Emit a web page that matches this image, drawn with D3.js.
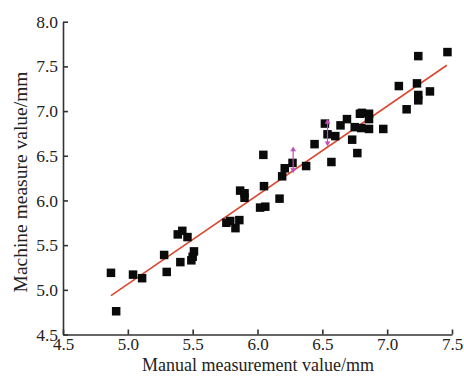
<!DOCTYPE html>
<html>
<head>
<meta charset="utf-8">
<script src="https://cdn.jsdelivr.net/npm/d3@7"></script>
<style>
  body { margin: 0; background: #fff; }
  text { font-family: "Liberation Serif", "DejaVu Serif", serif; fill: #222; }
</style>
</head>
<body>
<div id="chart"></div>
<script>
var manual = [4.87, 4.91, 5.04, 5.11, 5.28, 5.30, 5.385, 5.42, 5.46, 5.405, 5.51, 5.50, 5.49,
              5.76, 5.79, 5.83, 5.86, 5.866, 5.90, 5.90, 6.05, 6.02, 6.06, 6.045, 6.17, 6.19,
              6.21, 6.27, 6.375, 6.44, 6.57, 6.52, 6.54, 6.60, 6.64, 6.69, 6.73, 6.77, 6.79,
              6.75, 6.80, 6.805, 6.86, 6.86, 6.86, 6.97, 7.09, 7.15, 7.23, 7.24, 7.24, 7.24,
              7.33, 7.465];
var machine = [5.19, 4.76, 5.17, 5.13, 5.39, 5.20, 5.62, 5.66, 5.59, 5.31, 5.43, 5.37, 5.33,
               5.75, 5.77, 5.69, 5.78, 6.11, 6.08, 6.03, 6.16, 5.92, 5.93, 6.51, 6.02, 6.27,
               6.36, 6.42, 6.385, 6.63, 6.43, 6.86, 6.74, 6.72, 6.84, 6.91, 6.68, 6.53, 6.97,
               6.82, 6.81, 6.98, 6.97, 6.91, 6.80, 6.80, 7.28, 7.02, 7.31, 7.615, 7.18, 7.12,
               7.22, 7.66];

// linear fit
var fitSlope = 0.995, fitIntercept = 0.09;
var fitRange = [4.87, 7.46];

// two error bars (magenta arrows)
var errX = [6.275, 6.54];
var errLo = [6.32, 6.62];
var errHi = [6.59, 6.90];

var ticks = [4.5, 5.0, 5.5, 6.0, 6.5, 7.0, 7.5, 8.0];
var xTicks = [4.5, 5.0, 5.5, 6.0, 6.5, 7.0, 7.5];

var W = 464, H = 378;
var margin = {top: 21.7, right: 12, bottom: 43.5, left: 63};
var width = W - margin.left - margin.right,
    height = H - margin.top - margin.bottom;

var svg = d3.select("#chart").append("svg")
    .attr("width", W)
    .attr("height", H)
  .append("g")
    .attr("transform", "translate(" + margin.left + "," + margin.top + ")");

var x = d3.scaleLinear().domain([4.5, 7.5]).range([0, width]);
var y = d3.scaleLinear().domain([4.5, 8.0]).range([height, 0]);

// axes, ticks pointing inward
var xAxis = d3.axisBottom(x).tickValues(xTicks).tickFormat(d3.format(".1f"))
    .tickSizeInner(-5).tickSizeOuter(0).tickPadding(3);
var yAxis = d3.axisLeft(y).tickValues(ticks).tickFormat(d3.format(".1f"))
    .tickSizeInner(-5).tickSizeOuter(0).tickPadding(5);

var gx = svg.append("g")
    .attr("transform", "translate(0," + height + ")")
    .call(xAxis);
var gy = svg.append("g").call(yAxis);

[gx, gy].forEach(function(g) {
  g.selectAll("path, line").attr("stroke", "#333").attr("stroke-width", 1.6);
  g.selectAll("text").style("font-size", "17.5px").attr("fill", "#222");
});
gx.selectAll("text").style("font-size", "17px").attr("dy", "0.75em");

// fit line
svg.append("line")
    .attr("x1", x(fitRange[0]))
    .attr("y1", y(fitSlope * fitRange[0] + fitIntercept))
    .attr("x2", x(fitRange[1]))
    .attr("y2", y(fitSlope * fitRange[1] + fitIntercept))
    .attr("stroke", "#d9482e")
    .attr("stroke-width", 1.6);

// points
var sz = 8.5;
svg.selectAll(".pt")
    .data(manual.map(function(d, i) { return [d, machine[i]]; }))
    .enter().append("rect")
      .attr("class", "pt")
      .attr("x", function(d) { return x(d[0]) - sz / 2; })
      .attr("y", function(d) { return y(d[1]) - sz / 2; })
      .attr("width", sz)
      .attr("height", sz)
      .attr("fill", "#0a0a0a");

// error arrows
var errColor = "#c04fb8";
errX.forEach(function(ex, i) {
  svg.append("line")
      .attr("x1", x(ex)).attr("x2", x(ex))
      .attr("y1", y(errLo[i])).attr("y2", y(errHi[i]))
      .attr("stroke", errColor).attr("stroke-width", 1.2);
  svg.append("path")
      .attr("d", d3.symbol().type(d3.symbolTriangle).size(14)())
      .attr("transform", "translate(" + x(ex) + "," + (y(errHi[i]) + 2) + ")")
      .attr("fill", errColor);
  svg.append("path")
      .attr("d", d3.symbol().type(d3.symbolTriangle).size(14)())
      .attr("transform", "translate(" + x(ex) + "," + (y(errLo[i]) - 2) + ") rotate(180)")
      .attr("fill", errColor);
});

// axis titles
svg.append("text")
    .attr("x", 258 - margin.left)
    .attr("y", height + 36.5)
    .style("text-anchor", "middle")
    .style("font-size", "18px")
    .text("Manual measurement value/mm");

svg.append("text")
    .attr("transform", "rotate(-90)")
    .attr("x", -(182 - margin.top))
    .attr("y", -margin.left + 27)
    .style("text-anchor", "middle")
    .style("font-size", "19.5px")
    .text("Machine measure value/mm");
</script>
</body>
</html>
